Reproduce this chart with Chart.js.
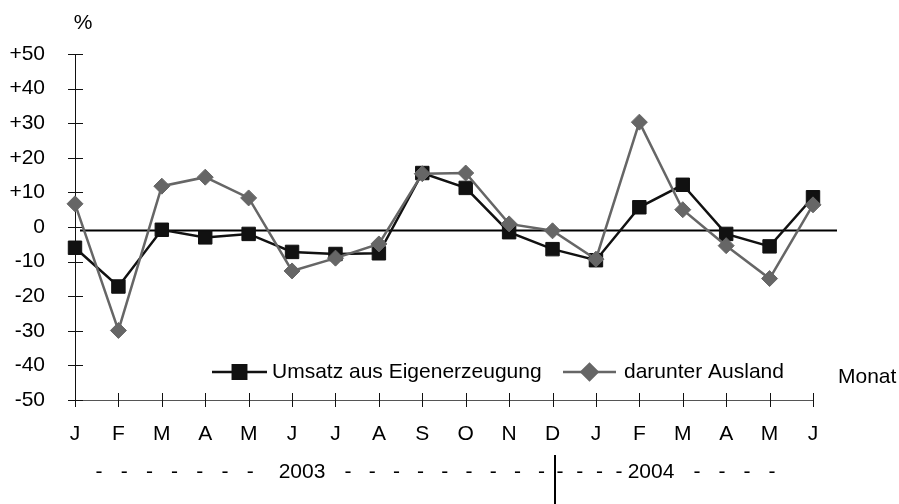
<!DOCTYPE html>
<html>
<head>
<meta charset="utf-8">
<script src="https://cdn.jsdelivr.net/npm/chart.js@4.4.1/dist/chart.umd.min.js"></script>
<style>
  html, body { margin: 0; padding: 0; background: #fff; }
</style>
</head>
<body>
<canvas id="chart" width="899" height="504"></canvas>
<script>
/* ── DATA ───────────────────────────────────────── */
const months = ["J", "F", "M", "A", "M", "J", "J", "A", "S", "O", "N", "D", "J", "F", "M", "A", "M", "J"];
const umsatz = [-6, -17.2, -0.8, -3, -2, -7.2, -7.8, -7.6, 15.6, 11.3, -1.5, -6.4, -9.6, 5.7, 12.2, -2, -5.6, 8.6];
const ausland = [6.7, -29.9, 11.8, 14.4, 8.4, -12.7, -9, -4.9, 15.4, 15.6, 0.9, -1.1, -9.3, 30.3, 5, -5.4, -14.9, 6.4];
const yMin = -50, yMax = 50, yStep = 10;
const baseLine = -1; // the horizontal reference line sits slightly below 0

const FONT = "Liberation Sans, Arial, Helvetica, sans-serif";
const BLACK = "#111111";
const GREY = "#666666";

/* ── DECORATION PLUGIN ──────────────────────────── */
const frame = {
  id: "frame",
  beforeDatasetsDraw(chart) {
    const { ctx, scales: { x, y } } = chart;
    ctx.save();
    // axis lines
    ctx.lineWidth = 1;
    ctx.strokeStyle = "#555";
    ctx.beginPath();
    ctx.moveTo(x.left, y.bottom + 0.5);
    ctx.lineTo(x.right, y.bottom + 0.5);
    ctx.stroke();
    ctx.strokeStyle = "#111";
    ctx.beginPath();
    ctx.moveTo(x.left + 0.5, y.top);
    ctx.lineTo(x.left + 0.5, y.bottom);
    ctx.stroke();
    // tick marks crossing the axes
    for (let v = yMin; v <= yMax; v += yStep) {
      const py = Math.round(y.getPixelForValue(v)) + 0.5;
      ctx.beginPath();
      ctx.moveTo(x.left - 7, py);
      ctx.lineTo(x.left + 8, py);
      ctx.stroke();
    }
    months.forEach((_, i) => {
      const px = Math.round(x.getPixelForValue(i)) + 0.5;
      ctx.beginPath();
      ctx.moveTo(px, y.bottom - 7);
      ctx.lineTo(px, y.bottom + 7);
      ctx.stroke();
    });
    // reference line
    const zy = y.getPixelForValue(baseLine);
    ctx.lineWidth = 2;
    ctx.strokeStyle = "#000";
    ctx.beginPath();
    ctx.moveTo(x.left + 5, zy);
    ctx.lineTo(x.right + 24, zy);
    ctx.stroke();
    ctx.restore();
  },
  afterDraw(chart) {
    const { ctx } = chart;
    ctx.save();
    ctx.fillStyle = "#000";
    ctx.font = "21px " + FONT;
    ctx.textBaseline = "middle";

    // unit + axis title
    ctx.textAlign = "center";
    ctx.fillText("%", 83, 23);
    ctx.textAlign = "left";
    ctx.fillText("Monat", 838, 377);

    // legend
    const items = [
      { ds: chart.data.datasets[0], x0: 212, x1: 267, text: "Umsatz aus Eigenerzeugung", tx: 272 },
      { ds: chart.data.datasets[1], x0: 563, x1: 616, text: "darunter Ausland", tx: 624 },
    ];
    const ly = 372;
    items.forEach((it) => {
      ctx.strokeStyle = it.ds.borderColor;
      ctx.lineWidth = it.ds.borderWidth;
      ctx.beginPath();
      ctx.moveTo(it.x0, ly);
      ctx.lineTo(it.x1, ly);
      ctx.stroke();
      Chart.helpers.drawPoint(ctx, {
        pointStyle: it.ds.pointStyle,
        radius: it.ds.pointRadius,
        borderWidth: 1,
      }, (it.x0 + it.x1) / 2, ly);
      ctx.fillStyle = it.ds.pointBackgroundColor;
      ctx.strokeStyle = it.ds.pointBorderColor;
      ctx.fill();
      ctx.fillStyle = "#000";
      ctx.textAlign = "left";
      ctx.fillText(it.text, it.tx, ly);
    });

    // year row
    const yr = 472;
    ctx.textAlign = "center";
    for (let i = 0; i < 7; i++) ctx.fillText("-", 99 + i * 25.2, yr);
    ctx.fillText("2003", 302, yr);
    for (let i = 0; i < 9; i++) ctx.fillText("-", 348 + i * 24.2, yr);
    for (let i = 0; i < 4; i++) ctx.fillText("-", 560 + i * 19.7, yr);
    ctx.fillText("2004", 651, yr);
    for (let i = 0; i < 4; i++) ctx.fillText("-", 697 + i * 25, yr);

    // year separator
    ctx.strokeStyle = "#000";
    ctx.lineWidth = 2;
    ctx.beginPath();
    ctx.moveTo(555, 455);
    ctx.lineTo(555, 504);
    ctx.stroke();
    ctx.restore();
  },
};

/* ── CHART ──────────────────────────────────────── */
new Chart(document.getElementById("chart"), {
  type: "line",
  data: {
    labels: months,
    datasets: [
      {
        label: "Umsatz aus Eigenerzeugung",
        data: umsatz,
        borderColor: BLACK,
        borderWidth: 2.5,
        pointStyle: "rect",
        pointRadius: 9.5,
        pointBackgroundColor: BLACK,
        pointBorderColor: BLACK,
        pointBorderWidth: 1,
        tension: 0,
        order: 1,
      },
      {
        label: "darunter Ausland",
        data: ausland,
        borderColor: GREY,
        borderWidth: 2.5,
        pointStyle: "rectRot",
        pointRadius: 8,
        pointBackgroundColor: GREY,
        pointBorderColor: GREY,
        pointBorderWidth: 1,
        tension: 0,
        order: 0,
      },
    ],
  },
  options: {
    responsive: false,
    animation: false,
    layout: { padding: { top: 54, right: 86, left: 0, bottom: 0 } },
    plugins: { legend: { display: false }, tooltip: { enabled: false } },
    scales: {
      x: {
        offset: false,
        grid: { display: false, drawTicks: false },
        border: { display: false },
        afterFit: (s) => { s.height = 104; },
        ticks: {
          color: "#000",
          font: { family: FONT, size: 21 },
          padding: 22,
          autoSkip: false,
          maxRotation: 0,
        },
      },
      y: {
        min: yMin,
        max: yMax,
        grid: { display: false, drawTicks: false },
        border: { display: false },
        afterFit: (s) => { s.width = 75; },
        ticks: {
          stepSize: yStep,
          color: "#000",
          font: { family: FONT, size: 21 },
          padding: 30,
          callback: (v) => (v > 0 ? "+" + v : String(v)),
        },
      },
    },
  },
  plugins: [frame],
});
</script>
</body>
</html>
